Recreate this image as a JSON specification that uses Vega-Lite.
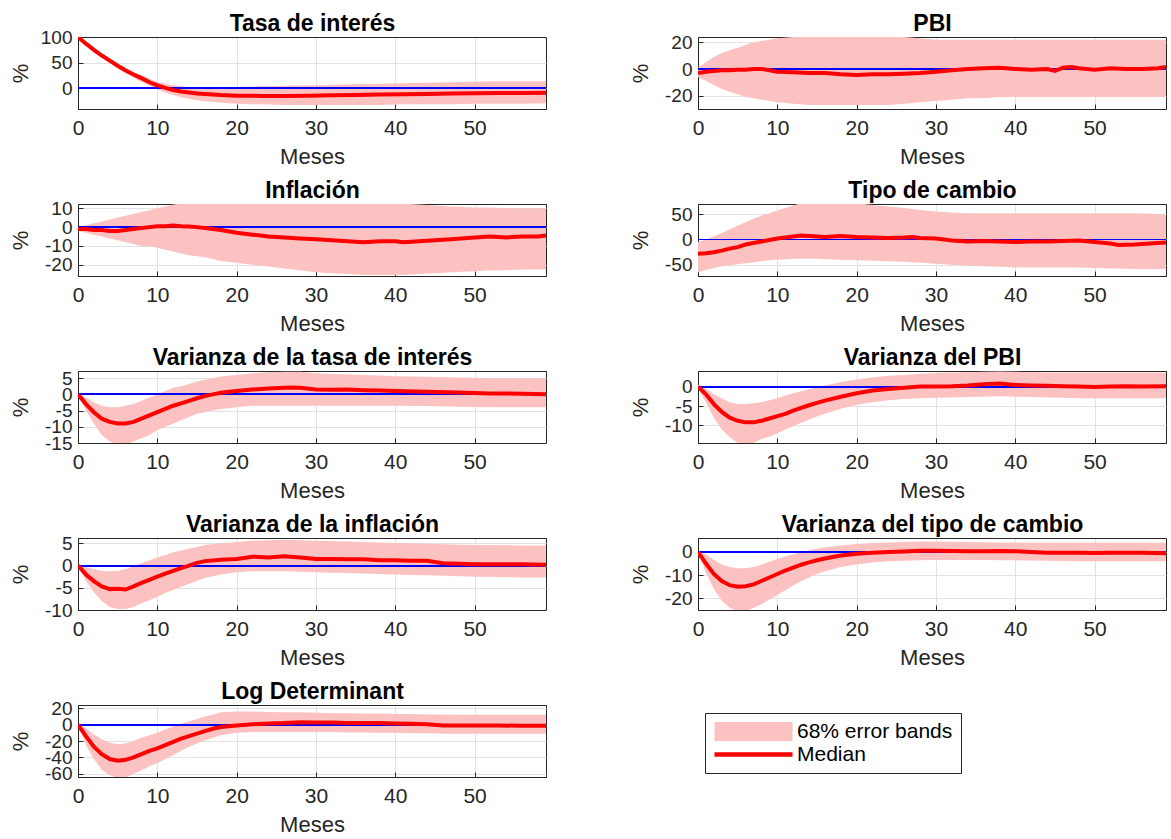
{
  "$schema": "https://vega.github.io/schema/vega-lite/v6.json",
  "padding": {"left": 8, "top": 11, "right": 5, "bottom": 5},
  "background": "white",
  "datasets": {
    "tasa": [
      {"m":0,"lo":100,"md":100,"hi":100},{"m":1,"lo":85,"md":87,"hi":89},{"m":2,"lo":72,"md":75,"hi":78},{"m":3,"lo":60,"md":64,"hi":67},{"m":4,"lo":50,"md":54,"hi":58},{"m":5,"lo":39,"md":44,"hi":48},{"m":6,"lo":30,"md":35,"hi":40},{"m":7,"lo":21,"md":27,"hi":32},{"m":8,"lo":13,"md":20,"hi":26},{"m":9,"lo":5,"md":12,"hi":19},{"m":10,"lo":-2,"md":6,"hi":13},{"m":11,"lo":-8,"md":1,"hi":9},{"m":12,"lo":-13,"md":-3,"hi":6},{"m":13,"lo":-17,"md":-6,"hi":4},{"m":14,"lo":-20,"md":-8,"hi":3},{"m":15,"lo":-23,"md":-10,"hi":2},{"m":16,"lo":-25,"md":-11,"hi":2},{"m":18,"lo":-28,"md":-13,"hi":2},{"m":20,"lo":-30,"md":-14,"hi":3},{"m":23,"lo":-31,"md":-14.5,"hi":4},{"m":26,"lo":-32,"md":-14.5,"hi":5},{"m":29,"lo":-32,"md":-14,"hi":6},{"m":32,"lo":-32,"md":-13.5,"hi":7},{"m":35,"lo":-32,"md":-13,"hi":8},{"m":38,"lo":-32,"md":-12,"hi":9},{"m":41,"lo":-31,"md":-11.5,"hi":10},{"m":44,"lo":-31,"md":-11,"hi":11},{"m":47,"lo":-31,"md":-10,"hi":12},{"m":50,"lo":-30,"md":-9.5,"hi":13},{"m":53,"lo":-30,"md":-9,"hi":14},{"m":56,"lo":-30,"md":-9,"hi":14},{"m":59,"lo":-29,"md":-8.5,"hi":14}
    ],
    "pbi": [
      {"m":0,"lo":-6,"md":-3,"hi":1},{"m":1,"lo":-9,"md":-2,"hi":5},{"m":2,"lo":-12,"md":-1.5,"hi":9},{"m":3,"lo":-15,"md":-1,"hi":12},{"m":4,"lo":-17,"md":-1,"hi":14},{"m":5,"lo":-19,"md":-0.5,"hi":16},{"m":6,"lo":-21,"md":-0.5,"hi":18},{"m":7,"lo":-22,"md":0,"hi":20},{"m":8,"lo":-23,"md":0,"hi":21},{"m":9,"lo":-24,"md":-1,"hi":22},{"m":10,"lo":-25,"md":-2,"hi":23},{"m":12,"lo":-26,"md":-2.5,"hi":24},{"m":14,"lo":-27,"md":-3,"hi":24},{"m":16,"lo":-27,"md":-3,"hi":24},{"m":18,"lo":-27,"md":-4,"hi":24},{"m":20,"lo":-27,"md":-4.5,"hi":24},{"m":22,"lo":-27,"md":-4,"hi":24},{"m":24,"lo":-27,"md":-4,"hi":24},{"m":26,"lo":-26,"md":-3.5,"hi":24},{"m":28,"lo":-25,"md":-3,"hi":23},{"m":30,"lo":-24,"md":-2,"hi":22},{"m":32,"lo":-23,"md":-1,"hi":22},{"m":34,"lo":-22,"md":0,"hi":22},{"m":36,"lo":-22,"md":0.5,"hi":22},{"m":38,"lo":-21,"md":1,"hi":22},{"m":40,"lo":-21,"md":0,"hi":22},{"m":42,"lo":-21,"md":-0.5,"hi":22},{"m":44,"lo":-21,"md":0,"hi":22},{"m":45,"lo":-21,"md":-1.5,"hi":22},{"m":46,"lo":-21,"md":1,"hi":22},{"m":47,"lo":-21,"md":1.5,"hi":22},{"m":48,"lo":-21,"md":0.5,"hi":22},{"m":50,"lo":-21,"md":-0.5,"hi":22},{"m":52,"lo":-21,"md":0.5,"hi":22},{"m":54,"lo":-21,"md":0,"hi":22},{"m":56,"lo":-21,"md":0,"hi":22},{"m":58,"lo":-21,"md":0.5,"hi":22},{"m":59,"lo":-21,"md":1.5,"hi":22}
    ],
    "infl": [
      {"m":0,"lo":-2,"md":-1,"hi":0},{"m":1,"lo":-3,"md":-1,"hi":1},{"m":2,"lo":-4,"md":-1.5,"hi":2},{"m":3,"lo":-5,"md":-1.5,"hi":3},{"m":4,"lo":-6,"md":-2,"hi":4},{"m":5,"lo":-7,"md":-2,"hi":5},{"m":6,"lo":-8,"md":-1.5,"hi":6},{"m":7,"lo":-9,"md":-1,"hi":7},{"m":8,"lo":-10,"md":-0.5,"hi":8},{"m":9,"lo":-10,"md":0,"hi":9},{"m":10,"lo":-11,"md":0.5,"hi":10},{"m":11,"lo":-12,"md":0.5,"hi":11},{"m":12,"lo":-13,"md":0.8,"hi":12},{"m":13,"lo":-14,"md":0.5,"hi":12.5},{"m":14,"lo":-15,"md":0.3,"hi":13},{"m":15,"lo":-15.5,"md":0,"hi":13},{"m":16,"lo":-16,"md":-0.5,"hi":13},{"m":18,"lo":-18,"md":-1.5,"hi":13},{"m":20,"lo":-19,"md":-3,"hi":13},{"m":22,"lo":-20,"md":-4,"hi":13},{"m":24,"lo":-21,"md":-5,"hi":13},{"m":26,"lo":-22,"md":-5.5,"hi":13},{"m":28,"lo":-23,"md":-6,"hi":13},{"m":30,"lo":-24,"md":-6.5,"hi":13},{"m":32,"lo":-24.5,"md":-7,"hi":13},{"m":34,"lo":-25,"md":-7.5,"hi":13},{"m":36,"lo":-25.5,"md":-8,"hi":13},{"m":38,"lo":-25.5,"md":-7.5,"hi":13},{"m":40,"lo":-25.5,"md":-7.5,"hi":12.5},{"m":41,"lo":-25.5,"md":-8,"hi":12.5},{"m":43,"lo":-25,"md":-7.5,"hi":12},{"m":45,"lo":-24.5,"md":-7,"hi":11.5},{"m":47,"lo":-24,"md":-6.5,"hi":11},{"m":50,"lo":-23.5,"md":-5.5,"hi":10.5},{"m":52,"lo":-23,"md":-5,"hi":10.5},{"m":54,"lo":-23,"md":-5.5,"hi":10},{"m":56,"lo":-22.5,"md":-5,"hi":10},{"m":58,"lo":-22.5,"md":-5,"hi":10},{"m":59,"lo":-22.5,"md":-4.5,"hi":10}
    ],
    "tc": [
      {"m":0,"lo":-65,"md":-28,"hi":-5},{"m":1,"lo":-60,"md":-27,"hi":0},{"m":2,"lo":-56,"md":-25,"hi":6},{"m":3,"lo":-53,"md":-22,"hi":13},{"m":4,"lo":-51,"md":-18,"hi":20},{"m":5,"lo":-49,"md":-15,"hi":27},{"m":6,"lo":-47,"md":-10,"hi":34},{"m":7,"lo":-45,"md":-7,"hi":41},{"m":8,"lo":-43,"md":-4,"hi":47},{"m":9,"lo":-41,"md":-1,"hi":52},{"m":10,"lo":-40,"md":2,"hi":57},{"m":11,"lo":-39,"md":4,"hi":62},{"m":12,"lo":-38,"md":6,"hi":67},{"m":13,"lo":-38,"md":8,"hi":72},{"m":14,"lo":-38,"md":7,"hi":72},{"m":15,"lo":-38,"md":6,"hi":72},{"m":16,"lo":-39,"md":5,"hi":72},{"m":18,"lo":-40,"md":7,"hi":72},{"m":20,"lo":-41,"md":5,"hi":72},{"m":22,"lo":-42,"md":4,"hi":68},{"m":24,"lo":-43,"md":3,"hi":65},{"m":26,"lo":-44,"md":4,"hi":62},{"m":27,"lo":-45,"md":5,"hi":60},{"m":28,"lo":-46,"md":3,"hi":58},{"m":30,"lo":-48,"md":2,"hi":55},{"m":32,"lo":-50,"md":-2,"hi":53},{"m":34,"lo":-52,"md":-4,"hi":52},{"m":36,"lo":-53,"md":-3,"hi":52},{"m":38,"lo":-54,"md":-4,"hi":52},{"m":40,"lo":-55,"md":-5,"hi":52},{"m":42,"lo":-55,"md":-4,"hi":52},{"m":44,"lo":-55,"md":-4,"hi":52},{"m":46,"lo":-55,"md":-3,"hi":52},{"m":48,"lo":-55,"md":-2,"hi":52},{"m":50,"lo":-56,"md":-5,"hi":52},{"m":52,"lo":-57,"md":-8,"hi":52},{"m":53,"lo":-57,"md":-11,"hi":52},{"m":55,"lo":-58,"md":-10,"hi":52},{"m":57,"lo":-58,"md":-8,"hi":51},{"m":59,"lo":-58,"md":-6,"hi":50}
    ],
    "vtasa": [
      {"m":0,"lo":0,"md":0,"hi":0},{"m":1,"lo":-5,"md":-3,"hi":-1},{"m":2,"lo":-9,"md":-5.5,"hi":-2.5},{"m":3,"lo":-12.5,"md":-7.5,"hi":-3.5},{"m":4,"lo":-14.5,"md":-8.5,"hi":-4},{"m":5,"lo":-15.5,"md":-9,"hi":-4},{"m":6,"lo":-15.5,"md":-9,"hi":-3.5},{"m":7,"lo":-14.5,"md":-8.5,"hi":-3},{"m":8,"lo":-13.5,"md":-7.5,"hi":-2},{"m":9,"lo":-12.5,"md":-6.5,"hi":-1},{"m":10,"lo":-11,"md":-5.5,"hi":0},{"m":11,"lo":-10,"md":-4.5,"hi":1},{"m":12,"lo":-9,"md":-3.5,"hi":2},{"m":13,"lo":-8,"md":-2.8,"hi":2.5},{"m":14,"lo":-7,"md":-2,"hi":3.2},{"m":15,"lo":-6,"md":-1.2,"hi":4},{"m":16,"lo":-5.5,"md":-0.5,"hi":4.5},{"m":17,"lo":-5,"md":0,"hi":5},{"m":18,"lo":-4.5,"md":0.5,"hi":5.5},{"m":20,"lo":-4,"md":1,"hi":6},{"m":22,"lo":-3.5,"md":1.5,"hi":6.5},{"m":24,"lo":-3.5,"md":1.8,"hi":6.8},{"m":26,"lo":-3.5,"md":2,"hi":7},{"m":27,"lo":-3.5,"md":2.1,"hi":7},{"m":28,"lo":-3.5,"md":2,"hi":7},{"m":30,"lo":-3.5,"md":1.5,"hi":6.5},{"m":32,"lo":-3.5,"md":1.4,"hi":6.3},{"m":34,"lo":-3.5,"md":1.5,"hi":6.2},{"m":36,"lo":-3.5,"md":1.3,"hi":6},{"m":38,"lo":-3.5,"md":1.2,"hi":5.8},{"m":40,"lo":-3.5,"md":1,"hi":5.6},{"m":44,"lo":-3.6,"md":0.8,"hi":5.4},{"m":48,"lo":-3.8,"md":0.6,"hi":5.2},{"m":52,"lo":-4,"md":0.3,"hi":5},{"m":56,"lo":-4,"md":0.2,"hi":5},{"m":59,"lo":-4,"md":0,"hi":5}
    ],
    "vpbi": [
      {"m":0,"lo":-0.5,"md":0,"hi":0.5},{"m":1,"lo":-4,"md":-2,"hi":-0.5},{"m":2,"lo":-8,"md":-4.5,"hi":-2},{"m":3,"lo":-11,"md":-6.5,"hi":-3},{"m":4,"lo":-13,"md":-8,"hi":-4},{"m":5,"lo":-14.5,"md":-8.8,"hi":-4.5},{"m":6,"lo":-14.8,"md":-9.2,"hi":-4.5},{"m":7,"lo":-14.5,"md":-9.2,"hi":-4.3},{"m":8,"lo":-13.5,"md":-8.8,"hi":-4},{"m":9,"lo":-12.8,"md":-8.2,"hi":-3.5},{"m":10,"lo":-12,"md":-7.6,"hi":-3},{"m":11,"lo":-11,"md":-7,"hi":-2.3},{"m":12,"lo":-10.2,"md":-6.2,"hi":-1.7},{"m":13,"lo":-9.3,"md":-5.5,"hi":-1.2},{"m":14,"lo":-8.5,"md":-4.8,"hi":-0.7},{"m":15,"lo":-7.7,"md":-4.2,"hi":-0.2},{"m":16,"lo":-7,"md":-3.6,"hi":0.3},{"m":18,"lo":-5.7,"md":-2.6,"hi":1.2},{"m":20,"lo":-4.7,"md":-1.7,"hi":1.8},{"m":22,"lo":-4,"md":-1,"hi":2.3},{"m":24,"lo":-3.5,"md":-0.6,"hi":2.8},{"m":26,"lo":-3.2,"md":-0.3,"hi":3},{"m":28,"lo":-3,"md":0,"hi":3.3},{"m":30,"lo":-2.9,"md":0,"hi":3.5},{"m":32,"lo":-2.8,"md":0.1,"hi":3.6},{"m":34,"lo":-2.7,"md":0.3,"hi":3.7},{"m":36,"lo":-2.6,"md":0.6,"hi":3.8},{"m":38,"lo":-2.5,"md":0.8,"hi":3.9},{"m":40,"lo":-2.6,"md":0.4,"hi":3.8},{"m":42,"lo":-2.7,"md":0.3,"hi":3.7},{"m":44,"lo":-2.8,"md":0.2,"hi":3.6},{"m":46,"lo":-2.9,"md":0.1,"hi":3.6},{"m":48,"lo":-3,"md":0,"hi":3.6},{"m":50,"lo":-3,"md":-0.1,"hi":3.6},{"m":52,"lo":-3,"md":0,"hi":3.6},{"m":54,"lo":-3,"md":0.1,"hi":3.6},{"m":56,"lo":-3,"md":0,"hi":3.6},{"m":59,"lo":-3,"md":0.1,"hi":3.6}
    ],
    "vinfl": [
      {"m":0,"lo":0,"md":0,"hi":0},{"m":1,"lo":-3.5,"md":-2,"hi":-0.3},{"m":2,"lo":-6,"md":-3.5,"hi":-0.8},{"m":3,"lo":-8,"md":-4.7,"hi":-1.2},{"m":4,"lo":-9.3,"md":-5.3,"hi":-1.3},{"m":5,"lo":-9.8,"md":-5.2,"hi":-1.2},{"m":6,"lo":-9.8,"md":-5.4,"hi":-0.8},{"m":7,"lo":-9.3,"md":-4.7,"hi":-0.2},{"m":8,"lo":-8.5,"md":-3.9,"hi":0.5},{"m":9,"lo":-7.8,"md":-3.2,"hi":1.2},{"m":10,"lo":-7,"md":-2.5,"hi":1.8},{"m":11,"lo":-6.2,"md":-1.8,"hi":2.4},{"m":12,"lo":-5.5,"md":-1.2,"hi":3},{"m":13,"lo":-4.8,"md":-0.6,"hi":3.4},{"m":14,"lo":-4.1,"md":0,"hi":3.8},{"m":15,"lo":-3.4,"md":0.6,"hi":4.2},{"m":16,"lo":-2.8,"md":1,"hi":4.6},{"m":18,"lo":-2,"md":1.3,"hi":5},{"m":20,"lo":-1.5,"md":1.5,"hi":5.3},{"m":22,"lo":-1.3,"md":2,"hi":5.6},{"m":24,"lo":-1.3,"md":1.8,"hi":5.7},{"m":26,"lo":-1.3,"md":2.1,"hi":5.8},{"m":28,"lo":-1.4,"md":1.8,"hi":5.7},{"m":30,"lo":-1.5,"md":1.5,"hi":5.6},{"m":32,"lo":-1.6,"md":1.5,"hi":5.5},{"m":34,"lo":-1.7,"md":1.4,"hi":5.4},{"m":36,"lo":-1.8,"md":1.4,"hi":5.3},{"m":38,"lo":-1.9,"md":1.2,"hi":5.2},{"m":40,"lo":-2,"md":1.2,"hi":5.1},{"m":42,"lo":-2.1,"md":1.1,"hi":5},{"m":44,"lo":-2.2,"md":1.1,"hi":4.9},{"m":46,"lo":-2.3,"md":0.5,"hi":4.8},{"m":48,"lo":-2.4,"md":0.4,"hi":4.7},{"m":50,"lo":-2.5,"md":0.3,"hi":4.6},{"m":53,"lo":-2.6,"md":0.3,"hi":4.6},{"m":56,"lo":-2.7,"md":0.3,"hi":4.5},{"m":59,"lo":-2.7,"md":0.2,"hi":4.5}
    ],
    "vtc": [
      {"m":0,"lo":0,"md":0,"hi":0},{"m":1,"lo":-9,"md":-5,"hi":-1},{"m":2,"lo":-16,"md":-9.5,"hi":-3.5},{"m":3,"lo":-21,"md":-12.5,"hi":-5.5},{"m":4,"lo":-24,"md":-14.3,"hi":-6.5},{"m":5,"lo":-25.5,"md":-15,"hi":-7},{"m":6,"lo":-25.5,"md":-14.8,"hi":-7},{"m":7,"lo":-24,"md":-14,"hi":-6.5},{"m":8,"lo":-22.5,"md":-12.5,"hi":-5.5},{"m":9,"lo":-20.5,"md":-11,"hi":-4.2},{"m":10,"lo":-18.5,"md":-9.5,"hi":-3},{"m":11,"lo":-16.5,"md":-8,"hi":-2},{"m":12,"lo":-14.5,"md":-6.8,"hi":-1},{"m":13,"lo":-12.5,"md":-5.5,"hi":0},{"m":14,"lo":-11,"md":-4.5,"hi":0.7},{"m":15,"lo":-9.5,"md":-3.6,"hi":1.4},{"m":16,"lo":-8.3,"md":-2.8,"hi":2},{"m":18,"lo":-6.5,"md":-1.5,"hi":2.8},{"m":20,"lo":-5.3,"md":-0.8,"hi":3.4},{"m":22,"lo":-4.5,"md":-0.3,"hi":3.8},{"m":24,"lo":-4,"md":0,"hi":4.1},{"m":26,"lo":-3.8,"md":0.2,"hi":4.3},{"m":28,"lo":-3.6,"md":0.5,"hi":4.5},{"m":30,"lo":-3.5,"md":0.5,"hi":4.5},{"m":32,"lo":-3.5,"md":0.4,"hi":4.4},{"m":34,"lo":-3.5,"md":0.3,"hi":4.3},{"m":36,"lo":-3.5,"md":0.3,"hi":4.2},{"m":38,"lo":-3.6,"md":0.4,"hi":4.1},{"m":40,"lo":-3.6,"md":0.3,"hi":4.1},{"m":42,"lo":-3.7,"md":0,"hi":4},{"m":44,"lo":-3.8,"md":-0.3,"hi":4},{"m":46,"lo":-3.9,"md":-0.3,"hi":4},{"m":48,"lo":-4,"md":-0.4,"hi":4},{"m":50,"lo":-4,"md":-0.5,"hi":4},{"m":52,"lo":-4,"md":-0.4,"hi":4},{"m":54,"lo":-4,"md":-0.3,"hi":4},{"m":56,"lo":-4,"md":-0.3,"hi":4},{"m":59,"lo":-4,"md":-0.6,"hi":4}
    ],
    "logdet": [
      {"m":0,"lo":0,"md":0,"hi":0},{"m":1,"lo":-25,"md":-14,"hi":-4},{"m":2,"lo":-42,"md":-27,"hi":-12},{"m":3,"lo":-55,"md":-36,"hi":-18},{"m":4,"lo":-62,"md":-42,"hi":-22},{"m":5,"lo":-65,"md":-44,"hi":-24},{"m":6,"lo":-65,"md":-43,"hi":-23},{"m":7,"lo":-60,"md":-40,"hi":-20},{"m":8,"lo":-56,"md":-36,"hi":-16},{"m":9,"lo":-51,"md":-32,"hi":-13},{"m":10,"lo":-47,"md":-29,"hi":-10},{"m":11,"lo":-42,"md":-25,"hi":-6},{"m":12,"lo":-37,"md":-21,"hi":-2},{"m":13,"lo":-32,"md":-17,"hi":1},{"m":14,"lo":-27,"md":-14,"hi":4},{"m":15,"lo":-23,"md":-11,"hi":7},{"m":16,"lo":-19,"md":-8,"hi":10},{"m":17,"lo":-16,"md":-5,"hi":12},{"m":18,"lo":-13,"md":-3,"hi":15},{"m":20,"lo":-10,"md":-1,"hi":16},{"m":22,"lo":-9,"md":0.5,"hi":16},{"m":24,"lo":-9,"md":1.5,"hi":15.5},{"m":26,"lo":-9,"md":2,"hi":15},{"m":28,"lo":-9,"md":3,"hi":15},{"m":30,"lo":-9,"md":2.5,"hi":14.5},{"m":32,"lo":-9,"md":2.5,"hi":14},{"m":34,"lo":-9.5,"md":2,"hi":14},{"m":36,"lo":-9.5,"md":2,"hi":13.5},{"m":38,"lo":-10,"md":2,"hi":13.5},{"m":40,"lo":-10,"md":1.5,"hi":13},{"m":42,"lo":-10.5,"md":1,"hi":13},{"m":44,"lo":-10.5,"md":0.5,"hi":12.5},{"m":46,"lo":-11,"md":-1,"hi":12.5},{"m":48,"lo":-11,"md":-1,"hi":12},{"m":50,"lo":-11,"md":-1,"hi":12},{"m":53,"lo":-11,"md":-1,"hi":12},{"m":56,"lo":-11,"md":-1.5,"hi":12},{"m":59,"lo":-11,"md":-1.5,"hi":12}
    ]
  },
  "columns": 2,
  "bounds": "flush",
  "spacing": {"row": 95, "column": 152},
  "resolve": {"scale": {"color": "independent"}, "legend": {"color": "independent"}},
  "concat": [
    {
      "width": 468, "height": 72, "data": {"name": "tasa"},
      "resolve": {"axis": {"x": "independent"}},
      "layer": [
        {"mark": {"type": "area", "color": "#fcc2c2", "clip": true},
         "encoding": {"x": {"field": "m", "type": "quantitative", "title": "Meses", "scale": {"domain": [0, 59], "nice": false}, "axis": {"values": [0, 10, 20, 30, 40, 50]}},
                      "y": {"field": "lo", "type": "quantitative", "title": "%", "scale": {"domain": [-40, 100], "nice": false}, "axis": {"values": [0, 50, 100], "tickCount": 20}},
                      "y2": {"field": "hi"}}},
        {"mark": {"type": "rule", "color": "#0000ff", "strokeWidth": 1.2, "opacity": 0.75}, "encoding": {"y": {"datum": 0, "type": "quantitative"}}},
        {"mark": {"type": "line", "color": "#ff0000", "strokeWidth": 4, "clip": true},
         "encoding": {"x": {"field": "m", "type": "quantitative", "title": "Tasa de interés", "axis": {"orient": "top", "labels": false, "grid": false, "domain": true, "ticks": false, "titleFontWeight": "bold", "titleColor": "#000000", "titleFontSize": 23, "titleBaseline": "alphabetic", "titleY": -7, "titlePadding": 0}},
                      "y": {"field": "md", "type": "quantitative", "axis": {"values": [0, 50, 100], "tickCount": 20}}}}
      ]
    },
    {
      "width": 468, "height": 72, "data": {"name": "pbi"},
      "resolve": {"axis": {"x": "independent"}},
      "layer": [
        {"mark": {"type": "area", "color": "#fcc2c2", "clip": true},
         "encoding": {"x": {"field": "m", "type": "quantitative", "title": "Meses", "scale": {"domain": [0, 59], "nice": false}, "axis": {"values": [0, 10, 20, 30, 40, 50]}},
                      "y": {"field": "lo", "type": "quantitative", "title": "%", "scale": {"domain": [-30, 24], "nice": false}, "axis": {"values": [-20, 0, 20], "tickCount": 20}},
                      "y2": {"field": "hi"}}},
        {"mark": {"type": "rule", "color": "#0000ff", "strokeWidth": 1.2, "opacity": 0.75}, "encoding": {"y": {"datum": 0, "type": "quantitative"}}},
        {"mark": {"type": "line", "color": "#ff0000", "strokeWidth": 4, "clip": true},
         "encoding": {"x": {"field": "m", "type": "quantitative", "title": "PBI", "axis": {"orient": "top", "labels": false, "grid": false, "domain": true, "ticks": false, "titleFontWeight": "bold", "titleColor": "#000000", "titleFontSize": 23, "titleBaseline": "alphabetic", "titleY": -7, "titlePadding": 0}},
                      "y": {"field": "md", "type": "quantitative", "axis": {"values": [-20, 0, 20], "tickCount": 20}}}}
      ]
    },
    {
      "width": 468, "height": 72, "data": {"name": "infl"},
      "resolve": {"axis": {"x": "independent"}},
      "layer": [
        {"mark": {"type": "area", "color": "#fcc2c2", "clip": true},
         "encoding": {"x": {"field": "m", "type": "quantitative", "title": "Meses", "scale": {"domain": [0, 59], "nice": false}, "axis": {"values": [0, 10, 20, 30, 40, 50]}},
                      "y": {"field": "lo", "type": "quantitative", "title": "%", "scale": {"domain": [-26, 12.3], "nice": false}, "axis": {"values": [-20, -10, 0, 10], "tickCount": 20}},
                      "y2": {"field": "hi"}}},
        {"mark": {"type": "rule", "color": "#0000ff", "strokeWidth": 1.2, "opacity": 0.75}, "encoding": {"y": {"datum": 0, "type": "quantitative"}}},
        {"mark": {"type": "line", "color": "#ff0000", "strokeWidth": 4, "clip": true},
         "encoding": {"x": {"field": "m", "type": "quantitative", "title": "Inflación", "axis": {"orient": "top", "labels": false, "grid": false, "domain": true, "ticks": false, "titleFontWeight": "bold", "titleColor": "#000000", "titleFontSize": 23, "titleBaseline": "alphabetic", "titleY": -7, "titlePadding": 0}},
                      "y": {"field": "md", "type": "quantitative", "axis": {"values": [-20, -10, 0, 10], "tickCount": 20}}}}
      ]
    },
    {
      "width": 468, "height": 72, "data": {"name": "tc"},
      "resolve": {"axis": {"x": "independent"}},
      "layer": [
        {"mark": {"type": "area", "color": "#fcc2c2", "clip": true},
         "encoding": {"x": {"field": "m", "type": "quantitative", "title": "Meses", "scale": {"domain": [0, 59], "nice": false}, "axis": {"values": [0, 10, 20, 30, 40, 50]}},
                      "y": {"field": "lo", "type": "quantitative", "title": "%", "scale": {"domain": [-72, 70], "nice": false}, "axis": {"values": [-50, 0, 50], "tickCount": 20}},
                      "y2": {"field": "hi"}}},
        {"mark": {"type": "rule", "color": "#0000ff", "strokeWidth": 1.2, "opacity": 0.75}, "encoding": {"y": {"datum": 0, "type": "quantitative"}}},
        {"mark": {"type": "line", "color": "#ff0000", "strokeWidth": 4, "clip": true},
         "encoding": {"x": {"field": "m", "type": "quantitative", "title": "Tipo de cambio", "axis": {"orient": "top", "labels": false, "grid": false, "domain": true, "ticks": false, "titleFontWeight": "bold", "titleColor": "#000000", "titleFontSize": 23, "titleBaseline": "alphabetic", "titleY": -7, "titlePadding": 0}},
                      "y": {"field": "md", "type": "quantitative", "axis": {"values": [-50, 0, 50], "tickCount": 20}}}}
      ]
    },
    {
      "width": 468, "height": 72, "data": {"name": "vtasa"},
      "resolve": {"axis": {"x": "independent"}},
      "layer": [
        {"mark": {"type": "area", "color": "#fcc2c2", "clip": true},
         "encoding": {"x": {"field": "m", "type": "quantitative", "title": "Meses", "scale": {"domain": [0, 59], "nice": false}, "axis": {"values": [0, 10, 20, 30, 40, 50]}},
                      "y": {"field": "lo", "type": "quantitative", "title": "%", "scale": {"domain": [-15, 7.2], "nice": false}, "axis": {"values": [-15, -10, -5, 0, 5], "tickCount": 20}},
                      "y2": {"field": "hi"}}},
        {"mark": {"type": "rule", "color": "#0000ff", "strokeWidth": 1.2, "opacity": 0.75}, "encoding": {"y": {"datum": 0, "type": "quantitative"}}},
        {"mark": {"type": "line", "color": "#ff0000", "strokeWidth": 4, "clip": true},
         "encoding": {"x": {"field": "m", "type": "quantitative", "title": "Varianza de la tasa de interés", "axis": {"orient": "top", "labels": false, "grid": false, "domain": true, "ticks": false, "titleFontWeight": "bold", "titleColor": "#000000", "titleFontSize": 23, "titleBaseline": "alphabetic", "titleY": -7, "titlePadding": 0}},
                      "y": {"field": "md", "type": "quantitative", "axis": {"values": [-15, -10, -5, 0, 5], "tickCount": 20}}}}
      ]
    },
    {
      "width": 468, "height": 72, "data": {"name": "vpbi"},
      "resolve": {"axis": {"x": "independent"}},
      "layer": [
        {"mark": {"type": "area", "color": "#fcc2c2", "clip": true},
         "encoding": {"x": {"field": "m", "type": "quantitative", "title": "Meses", "scale": {"domain": [0, 59], "nice": false}, "axis": {"values": [0, 10, 20, 30, 40, 50]}},
                      "y": {"field": "lo", "type": "quantitative", "title": "%", "scale": {"domain": [-14.5, 4], "nice": false}, "axis": {"values": [-10, -5, 0], "tickCount": 20}},
                      "y2": {"field": "hi"}}},
        {"mark": {"type": "rule", "color": "#0000ff", "strokeWidth": 1.2, "opacity": 0.75}, "encoding": {"y": {"datum": 0, "type": "quantitative"}}},
        {"mark": {"type": "line", "color": "#ff0000", "strokeWidth": 4, "clip": true},
         "encoding": {"x": {"field": "m", "type": "quantitative", "title": "Varianza del PBI", "axis": {"orient": "top", "labels": false, "grid": false, "domain": true, "ticks": false, "titleFontWeight": "bold", "titleColor": "#000000", "titleFontSize": 23, "titleBaseline": "alphabetic", "titleY": -7, "titlePadding": 0}},
                      "y": {"field": "md", "type": "quantitative", "axis": {"values": [-10, -5, 0], "tickCount": 20}}}}
      ]
    },
    {
      "width": 468, "height": 72, "data": {"name": "vinfl"},
      "resolve": {"axis": {"x": "independent"}},
      "layer": [
        {"mark": {"type": "area", "color": "#fcc2c2", "clip": true},
         "encoding": {"x": {"field": "m", "type": "quantitative", "title": "Meses", "scale": {"domain": [0, 59], "nice": false}, "axis": {"values": [0, 10, 20, 30, 40, 50]}},
                      "y": {"field": "lo", "type": "quantitative", "title": "%", "scale": {"domain": [-10, 6.2], "nice": false}, "axis": {"values": [-10, -5, 0, 5], "tickCount": 20}},
                      "y2": {"field": "hi"}}},
        {"mark": {"type": "rule", "color": "#0000ff", "strokeWidth": 1.2, "opacity": 0.75}, "encoding": {"y": {"datum": 0, "type": "quantitative"}}},
        {"mark": {"type": "line", "color": "#ff0000", "strokeWidth": 4, "clip": true},
         "encoding": {"x": {"field": "m", "type": "quantitative", "title": "Varianza de la inflación", "axis": {"orient": "top", "labels": false, "grid": false, "domain": true, "ticks": false, "titleFontWeight": "bold", "titleColor": "#000000", "titleFontSize": 23, "titleBaseline": "alphabetic", "titleY": -7, "titlePadding": 0}},
                      "y": {"field": "md", "type": "quantitative", "axis": {"values": [-10, -5, 0, 5], "tickCount": 20}}}}
      ]
    },
    {
      "width": 468, "height": 72, "data": {"name": "vtc"},
      "resolve": {"axis": {"x": "independent"}},
      "layer": [
        {"mark": {"type": "area", "color": "#fcc2c2", "clip": true},
         "encoding": {"x": {"field": "m", "type": "quantitative", "title": "Meses", "scale": {"domain": [0, 59], "nice": false}, "axis": {"values": [0, 10, 20, 30, 40, 50]}},
                      "y": {"field": "lo", "type": "quantitative", "title": "%", "scale": {"domain": [-25, 6], "nice": false}, "axis": {"values": [-20, -10, 0], "tickCount": 20}},
                      "y2": {"field": "hi"}}},
        {"mark": {"type": "rule", "color": "#0000ff", "strokeWidth": 1.2, "opacity": 0.75}, "encoding": {"y": {"datum": 0, "type": "quantitative"}}},
        {"mark": {"type": "line", "color": "#ff0000", "strokeWidth": 4, "clip": true},
         "encoding": {"x": {"field": "m", "type": "quantitative", "title": "Varianza del tipo de cambio", "axis": {"orient": "top", "labels": false, "grid": false, "domain": true, "ticks": false, "titleFontWeight": "bold", "titleColor": "#000000", "titleFontSize": 23, "titleBaseline": "alphabetic", "titleY": -7, "titlePadding": 0}},
                      "y": {"field": "md", "type": "quantitative", "axis": {"values": [-20, -10, 0], "tickCount": 20}}}}
      ]
    },
    {
      "width": 468, "height": 72, "data": {"name": "logdet"},
      "resolve": {"axis": {"x": "independent"}},
      "layer": [
        {"mark": {"type": "area", "clip": true},
         "encoding": {"x": {"field": "m", "type": "quantitative", "title": "Meses", "scale": {"domain": [0, 59], "nice": false}, "axis": {"values": [0, 10, 20, 30, 40, 50]}},
                      "y": {"field": "lo", "type": "quantitative", "title": "%", "scale": {"domain": [-64, 24], "nice": false}, "axis": {"values": [-60, -40, -20, 0, 20], "tickCount": 20}},
                      "y2": {"field": "hi"},
                      "color": {"datum": "68% error bands", "type": "nominal",
                                "scale": {"domain": ["68% error bands", "Median"], "range": ["#fcc2c2", "#ff0000"]},
                                "legend": {"orient": "none", "legendX": 627, "legendY": 8, "title": null, "direction": "vertical",
                                           "strokeColor": "#262626", "fillColor": "white", "padding": 8, "rowPadding": 1,
                                           "labelFontSize": 21, "labelFont": "Liberation Sans", "labelColor": "#000000", "labelOffset": 63,
                                           "symbolSize": 324,
                                           "encode": {"symbols": {"update": {
                                             "shape": {"signal": "datum.value === 'Median' ? 'M-1,-0.24H7.67V0.24H-1Z' : 'M-1,-1.05H7.67V1.05H-1Z'"},
                                             "opacity": {"value": 1}
                                           }}}}}}},
        {"mark": {"type": "rule", "color": "#0000ff", "strokeWidth": 1.2, "opacity": 0.75}, "encoding": {"y": {"datum": 0, "type": "quantitative"}}},
        {"mark": {"type": "line", "color": "#ff0000", "strokeWidth": 4, "clip": true},
         "encoding": {"x": {"field": "m", "type": "quantitative", "title": "Log Determinant", "axis": {"orient": "top", "labels": false, "grid": false, "domain": true, "ticks": false, "titleFontWeight": "bold", "titleColor": "#000000", "titleFontSize": 23, "titleBaseline": "alphabetic", "titleY": -7, "titlePadding": 0}},
                      "y": {"field": "md", "type": "quantitative", "axis": {"values": [-60, -40, -20, 0, 20], "tickCount": 20}}}}
      ]
    }
  ],
  "config": {
    "font": "Liberation Sans",
    "view": {"stroke": "#262626", "strokeWidth": 1},
    "axis": {
      "labelFont": "Liberation Sans", "labelFontSize": 21, "labelColor": "#262626", "labelOverlap": false,
      "titleFont": "Liberation Sans", "titleFontSize": 22, "titleFontWeight": "normal", "titleColor": "#262626",
      "ticks": true, "tickSize": -5, "tickColor": "#262626", "tickWidth": 1,
      "domain": true, "domainColor": "#262626", "domainWidth": 1, "grid": true, "gridColor": "#e2e2e2", "gridOpacity": 1
    },
    "axisX": {"labelPadding": 13, "titlePadding": 8, "labelFlush": false},
    "axisY": {"labelPadding": 11, "labelFontSize": 19, "labelExpr": "'' + datum.value", "titleX": -46, "titleY": 36, "titleAngle": 270, "labelFlush": false, "labelOverlap": false}
  }
}
